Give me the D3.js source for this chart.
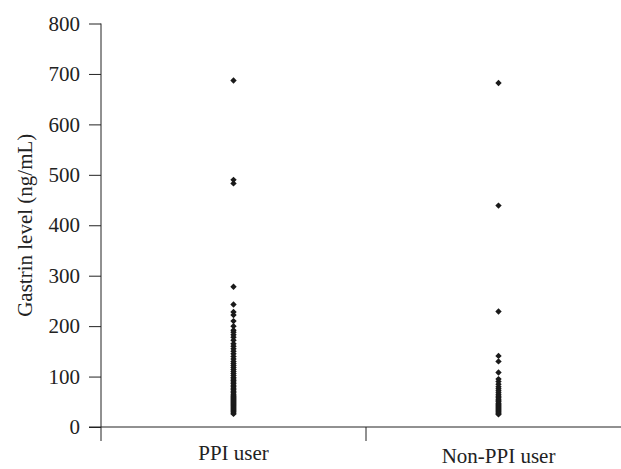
<!DOCTYPE html>
<html>
<head>
<meta charset="utf-8">
<script src="https://cdn.jsdelivr.net/npm/d3@7"></script>
<style>
  body { margin: 0; background: #fff; }
  text { font-family: "Liberation Serif", "DejaVu Serif", serif; fill: #222; }
</style>
</head>
<body>
<svg id="chart" width="621" height="469"></svg>
<script>
// Data
const groups = ['PPI user', 'Non-PPI user'];
const ppiValues = [687, 490, 483, 278, 243, 228, 222, 210, 200, 192, 188, 183, 178, 172, 165, 160,
  155, 150, 145, 140, 135, 130, 126, 122, 118, 114, 110, 106, 102, 98, 95, 92, 89, 86, 83, 80,
  77, 74, 71, 68, 65, 62, 60, 58, 56, 54, 52, 50, 48, 46, 44, 42, 40, 38, 36, 34, 32, 30, 28, 26];
const nonPpiValues = [682, 439, 229, 141, 130, 108, 95, 90, 85, 80, 76, 72, 68, 64, 61, 58, 55,
  52, 50, 47, 45, 43, 41, 39, 37, 35, 33, 31, 29, 27, 25];
const yTicks = [0, 100, 200, 300, 400, 500, 600, 700, 800];

const svg = d3.select('#chart');

// Scales
const x = d3.scaleBand().domain(groups).range([101, 631]);
const y = d3.scaleLinear().domain([0, 800]).range([427, 23.5]);

// Y axis
svg.append('g')
  .attr('transform', 'translate(101,0)')
  .call(d3.axisLeft(y).tickValues(yTicks).tickSize(12).tickSizeOuter(0))
  .call(g => g.select('.domain').remove())
  .call(g => g.selectAll('line').attr('stroke', '#222'))
  .call(g => g.selectAll('text').attr('x', -21).style('font-size', '21px').attr('fill', '#222'));

svg.append('line')
  .attr('x1', 101).attr('x2', 101)
  .attr('y1', y(800)).attr('y2', 441)
  .attr('stroke', '#222');

// X axis line and category separator tick
svg.append('line')
  .attr('x1', 89).attr('x2', 621)
  .attr('y1', y(0)).attr('y2', y(0))
  .attr('stroke', '#222');

svg.append('line')
  .attr('x1', x('PPI user') + x.bandwidth()).attr('x2', x('PPI user') + x.bandwidth())
  .attr('y1', y(0)).attr('y2', 441)
  .attr('stroke', '#222');

// Category labels (second one sits a bit lower, as in the original)
const labelY = { 'PPI user': 460, 'Non-PPI user': 463 };
svg.selectAll('.cat')
  .data(groups)
  .enter().append('text')
  .attr('class', 'cat')
  .attr('x', d => x(d) + x.bandwidth() / 2)
  .attr('y', d => labelY[d])
  .attr('text-anchor', 'middle')
  .style('font-size', '21px')
  .text(d => d);

// Y axis title
svg.append('text')
  .attr('transform', 'rotate(-90)')
  .attr('x', -y(400))
  .attr('y', 32)
  .attr('text-anchor', 'middle')
  .style('font-size', '21px')
  .text('Gastrin level (ng/mL)');

// Points as small diamonds
const diamond = d3.symbol().type(d3.symbolDiamond2).size(26);
function drawPoints(values, group) {
  svg.selectAll(null)
    .data(values)
    .enter().append('path')
    .attr('d', diamond)
    .attr('transform', d => `translate(${x(group) + x.bandwidth() / 2},${y(d)})`)
    .attr('fill', '#1a1a1a');
}
drawPoints(ppiValues, 'PPI user');
drawPoints(nonPpiValues, 'Non-PPI user');
</script>
</body>
</html>
